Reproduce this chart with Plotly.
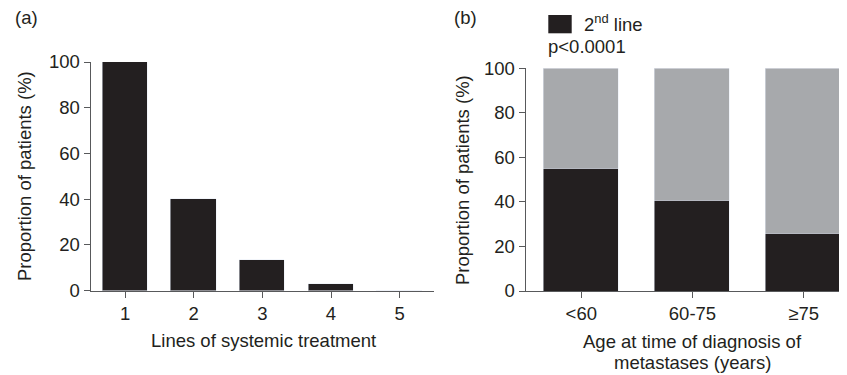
import plotly.graph_objects as go

# Panel (a)
lines_cat = [1, 2, 3, 4, 5]
lines_pct = [100, 40, 13.4, 2.9, 0]

# Panel (b)
age_cat = ["<60", "60-75", "≥75"]
second_line_pct = [55.2, 40.9, 26.0]
rest_pct = [100 - v for v in second_line_pct]
y_ticks = [0, 20, 40, 60, 80, 100]

BLACK = "#231f20"
GRAY = "#a7a9ac"
AX = "#58595b"
FONT = "Liberation Sans, Arial, sans-serif"
FS = 18.5

W, H = 847, 375
OFF = 8  # page body margin


def px(x):
    return (x - OFF) / W


def py(y):
    return 1 - (y - OFF) / H


fig = go.Figure()
fig.add_trace(go.Bar(x=lines_cat, y=lines_pct, marker_color=BLACK, width=0.66,
                     xaxis="x", yaxis="y", showlegend=False))
fig.add_trace(go.Bar(x=age_cat, y=second_line_pct, marker_color=BLACK, width=0.675,
                     xaxis="x2", yaxis="y2", name="2nd line", showlegend=False))
fig.add_trace(go.Bar(x=age_cat, y=rest_pct, marker_color=GRAY, width=0.675,
                     xaxis="x2", yaxis="y2", showlegend=False))

axis_common = dict(showline=True, linecolor=AX, linewidth=1.2, ticks="outside",
                   ticklen=6, tickcolor=AX, tickwidth=1.2, showgrid=False, zeroline=False,
                   automargin=False,
                   tickfont=dict(size=FS, color=BLACK, family=FONT))

fig.update_layout(
    width=W, height=H,
    margin=dict(l=0, r=0, t=0, b=0),
    paper_bgcolor="white", plot_bgcolor="white",
    barmode="stack", bargap=0,
    font=dict(family=FONT, size=FS, color=BLACK),
    xaxis=dict(domain=[px(90.7), px(434)], range=[0.5, 5.5], tickvals=lines_cat,
               anchor="y", **axis_common),
    yaxis=dict(domain=[py(290.7), py(62)], range=[0, 100], tickvals=y_ticks,
               anchor="x", **axis_common),
    xaxis2=dict(domain=[px(525.7), px(847)], range=[-0.5, 2.39], type="category",
                anchor="y2", **axis_common),
    yaxis2=dict(domain=[py(291), py(68.3)], range=[0, 100], tickvals=y_ticks,
                anchor="x2", **axis_common),
)


def txt(text, x, y, xanchor="center", angle=0):
    fig.add_annotation(text=text, x=px(x), y=py(y), xref="paper", yref="paper",
                       xanchor=xanchor, yanchor="middle", showarrow=False,
                       textangle=angle, font=dict(size=FS, family=FONT, color=BLACK))


# axis titles
txt("Proportion of patients (%)", 25, 176, angle=-90)
txt("Lines of systemic treatment", 263, 340)
txt("Proportion of patients (%)", 462, 180, angle=-90)
txt("Age at time of diagnosis of", 692, 341.5)
txt("metastases (years)", 692, 362)

# panel labels
txt("(a)", 13, 18, xanchor="left")
txt("(b)", 452, 18, xanchor="left")

# legend swatch + label
fig.add_shape(type="rect", xref="paper", yref="paper",
              x0=px(548.3), x1=px(571.7), y0=py(33.3), y1=py(15),
              fillcolor=BLACK, line=dict(width=0))
txt("2<sup>nd</sup> line", 582, 23, xanchor="left")
txt("p<0.0001", 546, 47, xanchor="left")

fig.write_html("out.html")
